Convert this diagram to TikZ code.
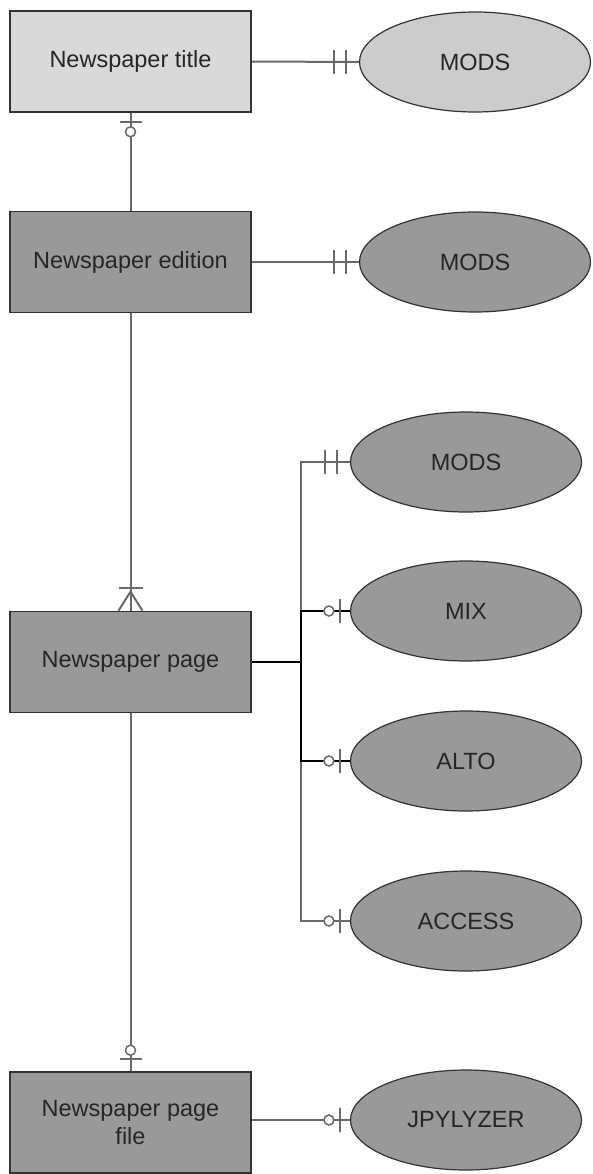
\documentclass[tikz,border=0pt]{standalone}
\usepackage{fontspec}
\setmainfont{Liberation Sans}
\usepackage{tikz}
\usetikzlibrary{shapes.geometric}
\usetikzlibrary{calc}
\usepackage{xcolor}
\definecolor{lg}{RGB}{217, 217, 217}
\definecolor{lm}{RGB}{204, 204, 204}
\definecolor{dg}{RGB}{153, 153, 153}
\definecolor{ln}{RGB}{105, 105, 105}
\definecolor{bd}{RGB}{51, 51, 51}

\begin{document}
\begin{tikzpicture}[x=1pt, y=-1pt,
        every node/.style={font=\fontsize{23.5}{28}\selectfont, text=black!85},
        entity/.style={draw=bd, line width=1.6pt, minimum width=241pt, minimum height=101pt, inner sep=0pt, align=center},
        attr/.style={ellipse, draw=bd, line width=1.2pt, minimum width=231pt, minimum height=100pt, inner sep=0pt},
        rel/.style={draw=ln, line width=2pt},
        sel/.style={draw=black, line width=2.5pt},
        cardbar/.style={draw=ln, line width=2pt},
        cardring/.style={draw=ln, fill=white, line width=1.5pt}]
        \useasboundingbox (0,0) rectangle (592,1174);
        \node[entity, fill=lg] (title) at (130.5,61.5) {Newspaper title};
        \node[entity, fill=dg] (edition) at (130.5,262) {Newspaper edition};
        \node[entity, fill=dg] (page) at (130.5,662) {Newspaper page};
        \node[entity, fill=dg] (file) at (130.5,1122.5) {Newspaper page\\file};
        \node[attr, fill=lm] (tmods) at (475,62) {MODS};
        \node[attr, fill=dg] (emods) at (475,262) {MODS};
        \node[attr, fill=dg] (pmods) at (466,462) {MODS};
        \node[attr, fill=dg] (mix) at (466,611) {MIX};
        \node[attr, fill=dg] (alto) at (466,761) {ALTO};
        \node[attr, fill=dg] (access) at (466,921) {ACCESS};
        \node[attr, fill=dg] (jpy) at (466,1120) {JPYLYZER};
        % entity links
        \draw[rel] (title) -- (edition);
        \draw[rel] (edition) -- (page);
        \draw[rel] (page) -- (file);
        \draw[rel] (title) -- (tmods);
        \draw[rel] (edition) -- (emods);
        \draw[rel] (file.east |- jpy.west) -- (jpy);
        % page attributes
        \coordinate (bus) at ($(page.east)+(49,0)$);
        \draw[rel] (page.east) -- (bus) |- (pmods.west);
        \draw[rel] (page.east) -- (bus) |- (access.west);
        \draw[sel] (page.east) -- (bus) |- (mix.west);
        \draw[sel] (page.east) -- (bus) |- (alto.west);
        % exactly one
        \foreach \n/\d in {tmods/25, tmods/13, emods/25, emods/13, pmods/25, pmods/13}
            \draw[cardbar] ($(\n.west)+(-\d,-12)$) -- ++(0,24);
        % zero or one
        \foreach \n in {mix, alto, access, jpy} {
            \draw[cardbar] ($(\n.west)+(-10,-12)$) -- ++(0,24);
            \draw[cardring] ($(\n.west)+(-21,0)$) circle (5pt);
        }
        \draw[cardbar] ($(title.south)+(-11,9)$) -- ++(22,0);
        \draw[cardring] ($(title.south)+(0,19)$) circle (5pt);
        \draw[cardbar] ($(file.north)+(-11,-12)$) -- ++(22,0);
        \draw[cardring] ($(file.north)+(0,-21)$) circle (5pt);
        % one or many
        \draw[cardbar] ($(page.north)+(-12,-23)$) -- ++(24,0);
        \draw[cardbar] ($(page.north)+(-12,0)$) -- ($(page.north)+(0,-19)$) -- ($(page.north)+(12,0)$);
    \end{tikzpicture}
\end{document}
